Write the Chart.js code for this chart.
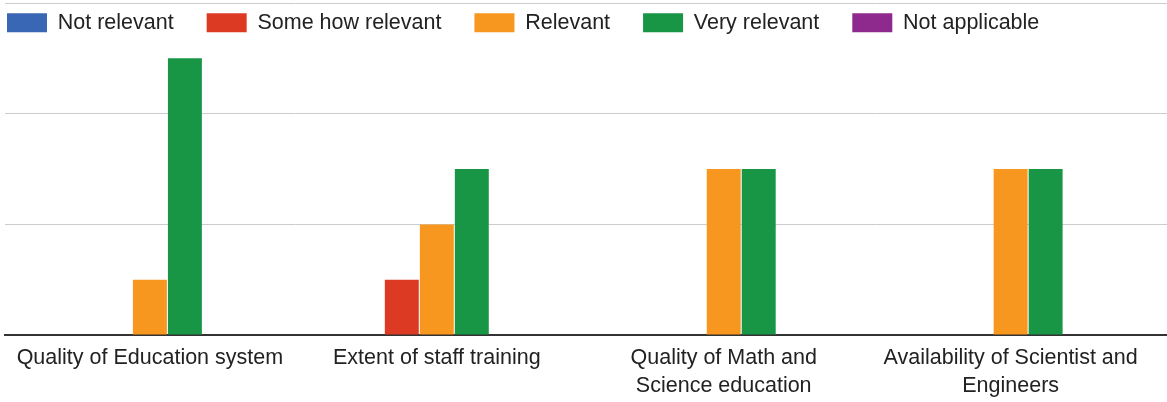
<!DOCTYPE html>
<html>
<head>
<meta charset="utf-8">
<script src="https://cdn.jsdelivr.net/npm/chart.js@4"></script>
<style>
	html, body { margin: 0; padding: 0; background: #fff; }
	#wrap { width: 1167px; height: 402px; }
</style>
</head>
<body>
<div id="wrap"><canvas id="barChart"></canvas></div>
<script>
const categories = [
	['Quality of Education system'],
	['Extent of staff training'],
	['Quality of Math and', 'Science education'],
	['Availability of Scientist and', 'Engineers'],
];
const notRelevant = [0, 0, 0, 0];
const someHowRelevant = [0, 1, 0, 0];
const relevant = [1, 2, 3, 3];
const veryRelevant = [5, 3, 3, 3];
const notApplicable = [0, 0, 0, 0];

const ctx = document.querySelector('#barChart');
const fontFamily = 'Liberation Sans, Arial, sans-serif';
const legendGap = 33;

// categories sit on a numeric axis so the plot can run past the last group, as in the original crop
const makeSet = (label, values, color) => ({
	label,
	data: values.map((y, i) => ({ x: i, y })),
	backgroundColor: color,
	borderColor: color,
	borderWidth: 0,
	barPercentage: 0.97,
	categoryPercentage: 0.61,
});

// legend sits inside the plot, laid out in one row like the original
const rowLegend = {
	id: 'rowLegend',
	afterInit(chart) {
		if (chart.legend) chart.legend.isHorizontal = () => true;
	},
	afterLayout(chart) {
		const legend = chart.legend;
		if (!legend) return;
		legend.left = 7 - legendGap;
		legend.right = legend.left + legend.width;
		legend.top = 12 - legendGap;
		legend.bottom = legend.top + legend.height;
	},
};

const myChart = new Chart(ctx, {
	type: 'bar',
	data: {
		datasets: [
			makeSet('Not relevant', notRelevant, '#3a66b6'),
			makeSet('Some how relevant', someHowRelevant, '#dc3a23'),
			makeSet('Relevant', relevant, '#f7971f'),
			makeSet('Very relevant', veryRelevant, '#189646'),
			makeSet('Not applicable', notApplicable, '#8e2a8d'),
		],
	},
	plugins: [rowLegend],
	options: {
		responsive: true,
		maintainAspectRatio: false,
		animation: false,
		layout: { padding: { left: 5, right: 0, top: 3, bottom: -7 } },
		plugins: {
			tooltip: { enabled: false },
			legend: {
				position: 'chartArea',
				align: 'start',
				labels: {
					boxWidth: 40,
					boxHeight: 19,
					padding: legendGap,
					color: '#222',
					font: { family: fontFamily, size: 21.5 },
				},
			},
		},
		scales: {
			x: {
				type: 'linear',
				offset: false,
				min: -0.505,
				max: 3.545,
				afterBuildTicks: axis => {
					axis.ticks = categories.map((c, i) => ({ value: i }));
				},
				grid: { display: false, drawTicks: false },
				border: { color: '#333', width: 2 },
				ticks: {
					color: '#222',
					maxRotation: 0,
					autoSkip: false,
					padding: 9,
					callback: value => categories[value],
					font: { family: fontFamily, size: 21.5, lineHeight: 1.3 },
				},
			},
			y: {
				min: 0,
				max: 6,
				ticks: { display: false, stepSize: 2 },
				grid: { color: '#cccccc', drawTicks: false },
				border: { display: false },
			},
		},
	},
});
myChart.update();
</script>
</body>
</html>
